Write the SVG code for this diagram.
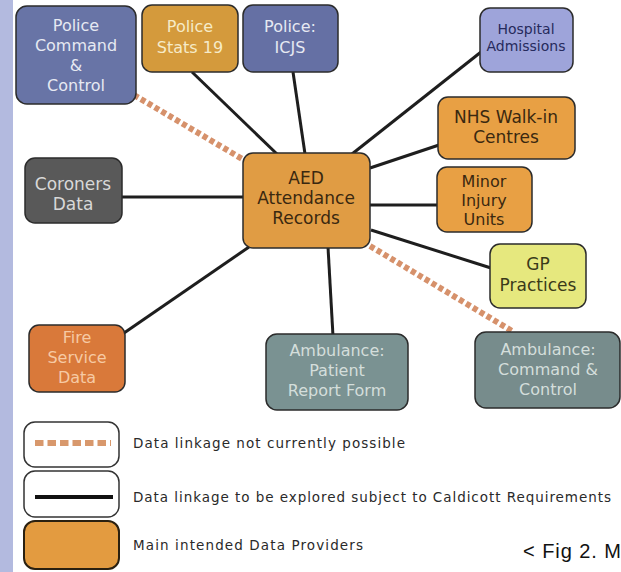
<svg xmlns="http://www.w3.org/2000/svg" width="621" height="572" viewBox="0 0 621 572">
<defs>
<style>
.n{stroke:#2b2b2b;stroke-width:1.5}
.t{font-family:"DejaVu Sans","Open Sans",sans-serif;font-size:16px;text-anchor:middle}
.b{font-size:17px}
.lt{fill:#e6e9f2}
.dk{fill:#3a2810}
.ln{stroke:#1e1e1e;stroke-width:3;fill:none}
.dot{stroke:#d6916b;stroke-width:6;stroke-dasharray:5 3;fill:none}
.lg{font-family:"DejaVu Sans","Open Sans",sans-serif;font-size:13.5px;fill:#2a2a2a}
</style>
</defs>
<rect x="0" y="0" width="621" height="572" fill="#ffffff"/>
<rect x="0" y="0" width="13" height="572" fill="#b3badf"/>

<g id="connectors">
<line class="dot" x1="134" y1="95" x2="244" y2="160"/>
<line class="dot" x1="370" y1="246" x2="512" y2="331"/>
<line class="ln" x1="192" y1="72" x2="277" y2="154"/>
<line class="ln" x1="293" y1="72" x2="305" y2="154"/>
<line class="ln" x1="481" y1="52" x2="352" y2="154"/>
<line class="ln" x1="439" y1="145" x2="370" y2="168"/>
<line class="ln" x1="438" y1="205" x2="370" y2="205"/>
<line class="ln" x1="491" y1="268" x2="371" y2="230"/>
<line class="ln" x1="122" y1="197" x2="244" y2="197"/>
<line class="ln" x1="124" y1="333" x2="249" y2="247"/>
<line class="ln" x1="333" y1="336" x2="328" y2="247"/>
</g>

<g id="police-command-control">
<rect class="n" x="16" y="6" width="120" height="98" rx="11" fill="#6874a6" stroke="#2c3152"/>
<text class="t lt" x="76" y="31">Police</text>
<text class="t lt" x="76" y="51">Command</text>
<text class="t lt" x="76" y="71">&amp;</text>
<text class="t lt" x="76" y="91">Control</text>
</g>
<g id="police-stats-19">
<rect class="n" x="142" y="5" width="96" height="67" rx="10" fill="#d49a3c" stroke="#5a3a10"/>
<text class="t" x="190" y="32" fill="#f6ebc8">Police</text>
<text class="t" x="190" y="53" fill="#f6ebc8">Stats 19</text>
</g>
<g id="police-icjs">
<rect class="n" x="243" y="5" width="95" height="67" rx="10" fill="#6570a4" stroke="#2c3152"/>
<text class="t lt" x="290" y="32">Police:</text>
<text class="t lt" x="290" y="53">ICJS</text>
</g>
<g id="hospital-admissions">
<rect class="n" x="480" y="8" width="93" height="64" rx="10" fill="#9ea4da" stroke="#6a70a8"/>
<text class="t" x="526" y="34" style="font-size:14px" fill="#262a5c">Hospital</text>
<text class="t" x="526" y="51" style="font-size:14px" fill="#262a5c">Admissions</text>
</g>
<g id="nhs-walk-in">
<rect class="n" x="438" y="97" width="137" height="62" rx="10" fill="#e8a044" stroke="#8a5a1a"/>
<text class="t b dk" x="506" y="123">NHS Walk-in</text>
<text class="t b dk" x="506" y="143">Centres</text>
</g>
<g id="aed">
<rect class="n" x="243" y="153" width="127" height="95" rx="10" fill="#e09c44" stroke="#4a3010"/>
<text class="t b dk" x="306" y="184">AED</text>
<text class="t b dk" x="306" y="204">Attendance</text>
<text class="t b dk" x="306" y="224">Records</text>
</g>
<g id="coroners-data">
<rect class="n" x="25" y="158" width="97" height="65" rx="10" fill="#595959" stroke="#2a2a2a"/>
<text class="t b" x="73" y="190" fill="#d8d8d8">Coroners</text>
<text class="t b" x="73" y="210" fill="#d8d8d8">Data</text>
</g>
<g id="minor-injury-units">
<rect class="n" x="437" y="167" width="95" height="65" rx="10" fill="#e8a044" stroke="#8a5a1a"/>
<text class="t dk" x="484" y="187">Minor</text>
<text class="t dk" x="484" y="206">Injury</text>
<text class="t dk" x="484" y="225">Units</text>
</g>
<g id="gp-practices">
<rect class="n" x="490" y="244" width="96" height="64" rx="10" fill="#e6e87e" stroke="#4e4e28"/>
<text class="t b" x="538" y="270" fill="#3a3a1a">GP</text>
<text class="t b" x="538" y="291" fill="#3a3a1a">Practices</text>
</g>
<g id="fire-service-data">
<rect class="n" x="29" y="325" width="96" height="67" rx="10" fill="#d9793a" stroke="#4a2a10"/>
<text class="t" x="77" y="343" fill="#f6caa4">Fire</text>
<text class="t" x="77" y="363" fill="#f6caa4">Service</text>
<text class="t" x="77" y="383" fill="#f6caa4">Data</text>
</g>
<g id="ambulance-prf">
<rect class="n" x="266" y="334" width="142" height="76" rx="11" fill="#7a9292" stroke="#3a4848"/>
<text class="t" x="337" y="356" fill="#d4dedb">Ambulance:</text>
<text class="t" x="337" y="376" fill="#d4dedb">Patient</text>
<text class="t" x="337" y="396" fill="#d4dedb">Report Form</text>
</g>
<g id="ambulance-cc">
<rect class="n" x="475" y="332" width="145" height="76" rx="11" fill="#778c8c" stroke="#3a4848"/>
<text class="t" x="548" y="355" fill="#d4dedb">Ambulance:</text>
<text class="t" x="548" y="375" fill="#d4dedb">Command &amp;</text>
<text class="t" x="548" y="395" fill="#d4dedb">Control</text>
</g>

<g id="legend">
<rect x="24" y="422" width="95" height="45" rx="11" fill="#ffffff" stroke="#333" stroke-width="1.5"/>
<line x1="35" y1="443" x2="111" y2="443" stroke="#d8986c" stroke-width="6" stroke-dasharray="8.5 4"/>
<text class="lg" x="133" y="448" textLength="272" lengthAdjust="spacing">Data linkage not currently possible</text>
<rect x="24" y="471" width="95" height="46" rx="11" fill="#ffffff" stroke="#333" stroke-width="1.5"/>
<line x1="35" y1="497" x2="113" y2="497" stroke="#111" stroke-width="4"/>
<text class="lg" x="133" y="502" textLength="478" lengthAdjust="spacing">Data linkage to be explored subject to Caldicott Requirements</text>
<rect x="24" y="521" width="95" height="48" rx="11" fill="#e39b40" stroke="#2a2010" stroke-width="2"/>
<text class="lg" x="133" y="550" textLength="230" lengthAdjust="spacing">Main intended Data Providers</text>
<text x="523" y="558" textLength="98" lengthAdjust="spacing" style="font-family:'Liberation Sans',sans-serif;font-size:20px" fill="#111">&lt; Fig 2. M</text>
</g>
</svg>
